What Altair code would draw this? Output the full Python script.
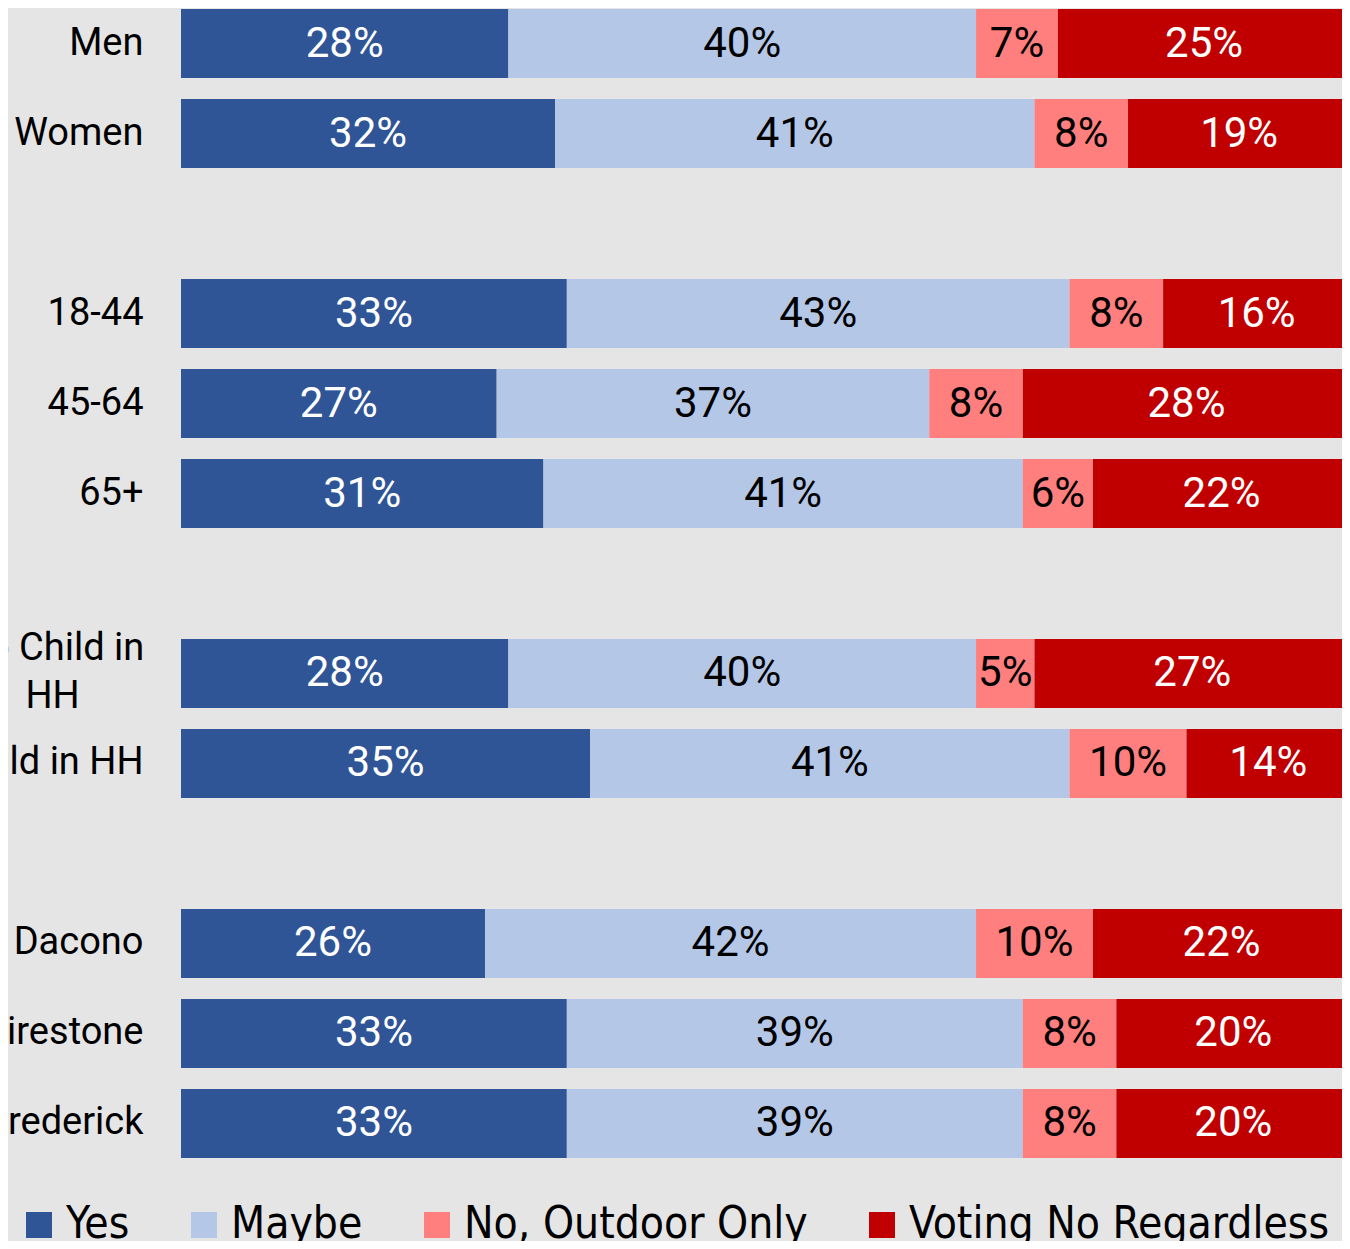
import altair as alt
import pandas as pd

categories = ["Men", "Women", "18-44", "45-64", "65+", "No Child in HH", "Child in HH",
              "Dacono", "Firestone", "Frederick"]
yes = [28, 32, 33, 27, 31, 28, 35, 26, 33, 33]
maybe = [40, 41, 43, 37, 41, 40, 41, 42, 39, 39]
no_outdoor = [7, 8, 8, 8, 6, 5, 10, 10, 8, 8]
voting_no = [25, 19, 16, 28, 22, 27, 14, 22, 20, 20]

series = ["Yes", "Maybe", "No, Outdoor Only", "Voting No Regardless"]
colors = ["#2F5597", "#B4C7E7", "#FF7F7F", "#C00000"]
text_colors = ["white", "black", "black", "white"]

row_order = ["Men", "Women", " ", "18-44", "45-64", "65+", "  ", "No Child in HH",
             "Child in HH", "   ", "Dacono", "Firestone", "Frederick"]

rows = []
for i, c in enumerate(categories):
    for j, (s, vals) in enumerate(zip(series, [yes, maybe, no_outdoor, voting_no])):
        rows.append({"cat": c, "series": s, "order": j, "pct": vals[i],
                     "label": f"{vals[i]}%", "tcolor": text_colors[j]})
df = pd.DataFrame(rows)

base = alt.Chart(df).transform_stack(
    stack="pct", groupby=["cat"], sort=[alt.SortField("order")], as_=["x0", "x1"]
).transform_calculate(mid="(datum.x0 + datum.x1) / 2")

multi = "datum.value == 'No Child in HH'"
y_enc = alt.Y(
    "cat:N",
    sort=row_order,
    scale=alt.Scale(domain=row_order, paddingInner=0.233, paddingOuter=0.011),
    axis=alt.Axis(
        title=None, domain=False, ticks=False, tickSize=0,
        labelFont="Roboto", labelFontSize=38, labelColor="black",
        labelLimit=1000, labelLineHeight=48,
        labelExpr=multi + " ? ['No Child in', 'HH'] : datum.label",
        labelAlign={"condition": {"test": multi, "value": "center"}, "value": "right"},
        labelPadding={"condition": {"test": multi, "value": 129}, "value": 38},
        labelOffset={"condition": {"test": multi, "value": -24}, "value": 0},
    ),
)

# view covers 0..99.3 so that 100% falls at the window's right edge
x_scale = alt.Scale(domain=[0, 99.3], nice=False, zero=True)

bars = base.mark_bar(strokeWidth=0, clip=True).encode(
    y=y_enc,
    x=alt.X("x0:Q", scale=x_scale, axis=None),
    x2="x1:Q",
    color=alt.Color(
        "series:N",
        scale=alt.Scale(domain=series, range=colors),
        legend=alt.Legend(
            title=None, orient="none", legendX=-164, legendY=1195,
            direction="horizontal", symbolType="square", symbolSize=676,
            symbolStrokeWidth=0, labelFont="DejaVu Sans Condensed, Roboto",
            labelFontSize=44, labelOffset=5, columnPadding=52,
            labelLimit=1000, labelColor="black",
        ),
    ),
    order=alt.Order("order:Q"),
)

texts = base.mark_text(font="Roboto", fontSize=42, baseline="middle", align="center").encode(
    y=alt.Y("cat:N", sort=row_order),
    x=alt.X("mid:Q", scale=x_scale, axis=None),
    text="label:N",
    color=alt.Color("tcolor:N", scale=None, legend=None),
)

chart = alt.layer(bars, texts).properties(
    width=1161, height=1151,
    autosize=alt.AutoSizeParams(type="none"),
    padding={"left": 173, "top": 0, "right": 0, "bottom": 82},
    background="#e5e5e5",
).configure_view(stroke=None)

chart.save("out.html", embed_options={"renderer": "svg", "actions": False})
